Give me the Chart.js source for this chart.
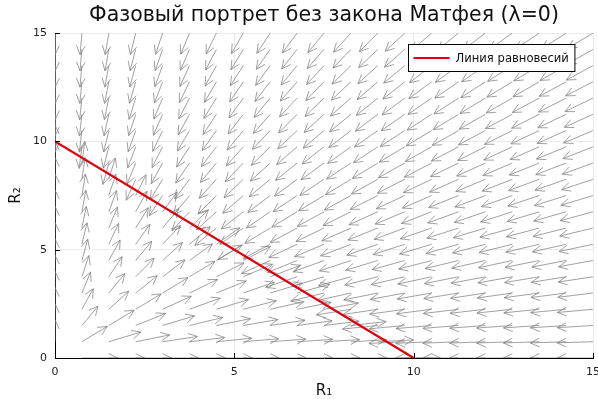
<!DOCTYPE html>
<html>
<head>
<meta charset="utf-8">
<script src="https://cdn.jsdelivr.net/npm/chart.js@4.4.0/dist/chart.umd.min.js"></script>
<style>
  html, body { margin: 0; padding: 0; background: #fff; }
  #wrap { width: 598px; height: 399px; }
</style>
</head>
<body>
<div id="wrap"><canvas id="phaseChart" width="598" height="399"></canvas></div>
<script>
// Arrow tails (step 0.75 on both axes)
const gridR1 = [0, 0.75, 1.5, 2.25, 3, 3.75, 4.5, 5.25, 6, 6.75, 7.5, 8.25, 9, 9.75, 10.5, 11.25, 12, 12.75, 13.5, 14.25, 15];
const gridR2 = [0, 0.75, 1.5, 2.25, 3, 3.75, 4.5, 5.25, 6, 6.75, 7.5, 8.25, 9, 9.75, 10.5, 11.25, 12, 12.75, 13.5, 14.25, 15];

// Equilibrium line R1 + R2 = 10
const eqR1 = [0, 10];
const eqR2 = [10, 0];
const eqSum = 10;

// every arrow has the same length (1 unit) and lies on a ray from the origin,
// pointing towards the equilibrium line
const arrowLen = 1;

const tickValues = [0, 5, 10, 15];
const titleText = 'Фазовый портрет без закона Матфея (λ=0)';
const legendText = 'Линия равновесий';

const arrowColor = 'rgba(125,125,125,0.72)';
const lineColor = '#e0000b';

// build shafts (one line dataset, broken by nulls) and a list for the heads
const shafts = [];
const arrows = [];
gridR2.forEach(r2 => {
  gridR1.forEach(r1 => {
    const len = Math.hypot(r1, r2);
    if (len === 0) return;
    const dir = (r1 + r2 < eqSum) ? 1 : -1;
    const x1 = r1 + dir * arrowLen * r1 / len;
    const y1 = r2 + dir * arrowLen * r2 / len;
    shafts.push({ x: r1, y: r2 }, { x: x1, y: y1 }, { x: r1, y: null });
    arrows.push({ x0: r1, y0: r2, x1: x1, y1: y1 });
  });
});

const eqPoints = eqR1.map((v, i) => ({ x: v, y: eqR2[i] }));

// arrow heads, drawn in pixel space right after the arrow dataset
const arrowHeads = {
  id: 'arrowHeads',
  afterDatasetDraw(chart, args) {
    if (args.index !== 0) return;
    const { ctx, chartArea, scales } = chart;
    ctx.save();
    ctx.beginPath();
    ctx.rect(chartArea.left, chartArea.top, chartArea.right - chartArea.left, chartArea.bottom - chartArea.top);
    ctx.clip();
    ctx.strokeStyle = arrowColor;
    ctx.lineWidth = 1;
    const wing = 10;
    const spread = 0.45;
    arrows.forEach(a => {
      const px0 = scales.x.getPixelForValue(a.x0);
      const py0 = scales.y.getPixelForValue(a.y0);
      const px1 = scales.x.getPixelForValue(a.x1);
      const py1 = scales.y.getPixelForValue(a.y1);
      const ang = Math.atan2(py1 - py0, px1 - px0);
      ctx.beginPath();
      ctx.moveTo(px1 - wing * Math.cos(ang - spread), py1 - wing * Math.sin(ang - spread));
      ctx.lineTo(px1, py1);
      ctx.lineTo(px1 - wing * Math.cos(ang + spread), py1 - wing * Math.sin(ang + spread));
      ctx.stroke();
    });
    ctx.restore();
  }
};

// small inward ticks + boxed legend inside the plot
const frameExtras = {
  id: 'frameExtras',
  afterDraw(chart) {
    const { ctx, chartArea, scales } = chart;
    ctx.save();
    ctx.strokeStyle = '#000';
    ctx.lineWidth = 1;
    tickValues.forEach(v => {
      const px = Math.round(scales.x.getPixelForValue(v)) + 0.5;
      ctx.beginPath();
      ctx.moveTo(px, chartArea.bottom);
      ctx.lineTo(px, chartArea.bottom - 5);
      ctx.stroke();
      const py = Math.round(scales.y.getPixelForValue(v)) + 0.5;
      ctx.beginPath();
      ctx.moveTo(chartArea.left, py);
      ctx.lineTo(chartArea.left + 5, py);
      ctx.stroke();
    });

    // legend
    ctx.font = '11.6px "DejaVu Sans"';
    const textW = ctx.measureText(legendText).width;
    const boxW = 47 + textW + 6;
    const boxH = 27;
    const bx = Math.round(chartArea.right - 19 - boxW) + 0.5;
    const by = Math.round(chartArea.top + 11) + 0.5;
    ctx.fillStyle = '#fff';
    ctx.fillRect(bx, by, boxW, boxH);
    ctx.strokeStyle = '#000';
    ctx.strokeRect(bx, by, boxW, boxH);
    ctx.strokeStyle = lineColor;
    ctx.lineWidth = 2;
    ctx.beginPath();
    ctx.moveTo(bx + 5, by + boxH / 2);
    ctx.lineTo(bx + 41, by + boxH / 2);
    ctx.stroke();
    ctx.fillStyle = '#111';
    ctx.textBaseline = 'middle';
    ctx.fillText(legendText, bx + 47, by + boxH / 2 + 1);
    ctx.restore();
  }
};

const ctx = document.getElementById('phaseChart').getContext('2d');
const phaseChart = new Chart(ctx, {
  type: 'scatter',
  data: {
    datasets: [
      {
        label: 'arrows',
        data: shafts,
        showLine: true,
        spanGaps: false,
        borderColor: arrowColor,
        borderWidth: 1,
        pointRadius: 0,
        order: 2
      },
      {
        label: legendText,
        data: eqPoints,
        showLine: true,
        borderColor: lineColor,
        borderWidth: 2.2,
        pointRadius: 0,
        order: 1
      }
    ]
  },
  options: {
    responsive: false,
    animation: false,
    devicePixelRatio: 1,
    layout: { padding: { left: 0, right: 5, top: 0, bottom: 0 } },
    plugins: {
      legend: { display: false },
      tooltip: { enabled: false },
      title: {
        display: true,
        text: titleText,
        fullSize: false,
        color: '#111',
        font: { family: 'DejaVu Sans', size: 20.5, weight: 'normal', lineHeight: 1.2 },
        padding: { top: 3, bottom: 5.5 }
      }
    },
    scales: {
      x: {
        type: 'linear',
        min: 0,
        max: 15,
        afterFit: s => { s.height = 41; s.paddingLeft = 0; s.paddingRight = 0; },
        afterBuildTicks: s => { s.ticks = tickValues.map(v => ({ value: v })); },
        ticks: { color: '#222', font: { family: 'DejaVu Sans', size: 11 }, padding: 8, maxRotation: 0 },
        grid: { color: 'rgba(0,0,0,0.08)', drawTicks: false },
        border: { color: '#000', width: 1 },
        title: { display: true, text: 'R₁', color: '#111', font: { family: 'DejaVu Sans', size: 15, lineHeight: 1 }, padding: { top: 0, bottom: 0 } }
      },
      y: {
        type: 'linear',
        min: 0,
        max: 15,
        afterFit: s => { s.width = 55; s.paddingTop = 0; s.paddingBottom = 0; },
        afterBuildTicks: s => { s.ticks = tickValues.map(v => ({ value: v })); },
        ticks: { color: '#222', font: { family: 'DejaVu Sans', size: 11 }, padding: 8 },
        grid: { color: 'rgba(0,0,0,0.08)', drawTicks: false },
        border: { color: '#000', width: 1 },
        title: { display: true, text: 'R₂', color: '#111', font: { family: 'DejaVu Sans', size: 15 }, padding: { top: 7, bottom: 0 } }
      }
    }
  },
  plugins: [arrowHeads, frameExtras]
});
</script>
</body>
</html>
